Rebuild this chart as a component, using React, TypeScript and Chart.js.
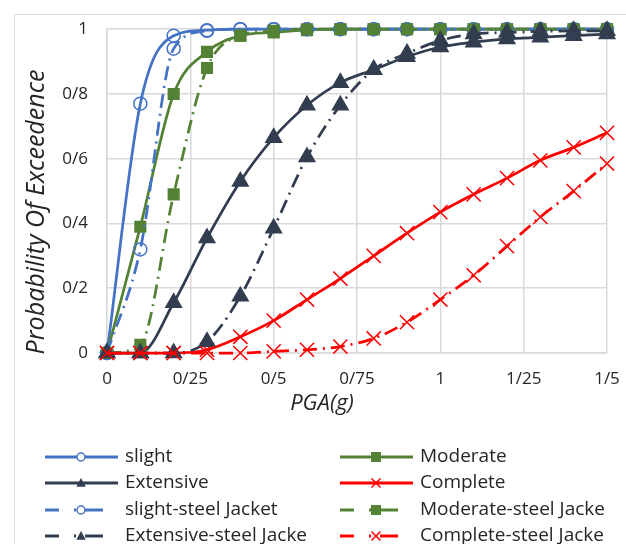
import React, { useEffect, useRef } from 'react';
import { Chart, registerables } from 'chart.js';

Chart.register(...registerables);

const pga = [0, 0.1, 0.2, 0.3, 0.4, 0.5, 0.6, 0.7, 0.8, 0.9, 1.0, 1.1, 1.2, 1.3, 1.4, 1.5];
const xTickLabels = ['0', '0/25', '0/5', '0/75', '1', '1/25', '1/5'];
const yTickLabels = ['0', '0/2', '0/4', '0/6', '0/8', '1'];
const xTitle = 'PGA(g)';
const yTitle = 'Probability Of Exceedence';

const slight = [0, 0.77, 0.98, 0.997, 1, 1, 1, 1, 1, 1, 1, 1, 1, 1, 1, 1];
const moderate = [0, 0.39, 0.8, 0.93, 0.98, 0.99, 0.997, 1, 1, 1, 1, 1, 1, 1, 1, 1];
const extensive = [0, 0, 0.155, 0.355, 0.53, 0.665, 0.765, 0.835, 0.875, 0.915, 0.945, 0.96, 0.97, 0.975, 0.98, 0.985];
const complete = [0, 0, 0, 0.01, 0.05, 0.1, 0.165, 0.23, 0.3, 0.37, 0.435, 0.49, 0.54, 0.595, 0.635, 0.68];
const slightSteel = [0, 0.32, 0.94, 0.995, 1, 1, 1, 1, 1, 1, 1, 1, 1, 1, 1, 1];
const moderateSteel = [0, 0.025, 0.49, 0.88, 0.98, 0.995, 1, 1, 1, 1, 1, 1, 1, 1, 1, 1];
const extensiveSteel = [0, 0, 0, 0.035, 0.175, 0.385, 0.605, 0.765, 0.875, 0.925, 0.965, 0.985, 0.99, 0.993, 0.995, 0.995];
const completeSteel = [0, 0, 0, 0, 0, 0.005, 0.01, 0.02, 0.045, 0.095, 0.165, 0.24, 0.33, 0.42, 0.5, 0.585];

const seriesLabels = [
  'slight',
  'Moderate',
  'Extensive',
  'Complete',
  'slight-steel Jacket',
  'Moderate-steel Jacke',
  'Extensive-steel Jacke',
  'Complete-steel Jacke',
];

const BLUE = '#4472C4';
const GREEN = '#548235';
const DARK = '#323E4F';
const RED = '#FF0000';
const FONT = "'Open Sans', 'Noto Sans', sans-serif";
const TEXT = '#262626';

type Spec = { values: number[]; color: string; marker: string; dashed: boolean };

const specs: Spec[] = [
  { values: slight, color: BLUE, marker: 'circle', dashed: false },
  { values: moderate, color: GREEN, marker: 'rect', dashed: false },
  { values: extensive, color: DARK, marker: 'triangle', dashed: false },
  { values: complete, color: RED, marker: 'crossRot', dashed: false },
  { values: slightSteel, color: BLUE, marker: 'circle', dashed: true },
  { values: moderateSteel, color: GREEN, marker: 'rect', dashed: true },
  { values: extensiveSteel, color: DARK, marker: 'triangle', dashed: true },
  { values: completeSteel, color: RED, marker: 'crossRot', dashed: true },
];

const DASH = [14, 6, 2, 6];

function markerRadius(m: string) {
  if (m === 'circle') return 6.5;
  if (m === 'rect') return 7.5;
  if (m === 'triangle') return 9;
  return 10;
}

function drawMarker(ctx: CanvasRenderingContext2D, m: string, x: number, y: number, r: number, color: string) {
  ctx.save();
  ctx.setLineDash([]);
  ctx.strokeStyle = color;
  ctx.fillStyle = color;
  ctx.lineWidth = 1.5;
  ctx.beginPath();
  if (m === 'circle') {
    ctx.arc(x, y, r, 0, Math.PI * 2);
    ctx.fillStyle = '#ffffff';
    ctx.fill();
    ctx.stroke();
  } else if (m === 'rect') {
    ctx.rect(x - r, y - r, 2 * r, 2 * r);
    ctx.fill();
  } else if (m === 'triangle') {
    ctx.moveTo(x, y - r);
    ctx.lineTo(x + r * 0.95, y + r * 0.75);
    ctx.lineTo(x - r * 0.95, y + r * 0.75);
    ctx.closePath();
    ctx.fill();
  } else {
    ctx.moveTo(x - r, y - r);
    ctx.lineTo(x + r, y + r);
    ctx.moveTo(x + r, y - r);
    ctx.lineTo(x - r, y + r);
    ctx.stroke();
  }
  ctx.restore();
}

const framePlugin = {
  id: 'frame',
  beforeDraw(chart: any) {
    const ctx = chart.ctx as CanvasRenderingContext2D;
    ctx.save();
    ctx.strokeStyle = '#d9d9d9';
    ctx.lineWidth = 1;
    ctx.beginPath();
    ctx.moveTo(14.5, chart.height);
    ctx.lineTo(14.5, 14.5);
    ctx.lineTo(chart.width, 14.5);
    ctx.stroke();
    ctx.restore();
  },
};

const titlesPlugin = {
  id: 'axisTitles',
  afterDraw(chart: any) {
    const ctx = chart.ctx as CanvasRenderingContext2D;
    ctx.save();
    ctx.fillStyle = TEXT;
    ctx.textAlign = 'center';
    ctx.textBaseline = 'middle';
    ctx.font = `italic 22px ${FONT}`;
    ctx.fillText(xTitle, 322, 404);
    ctx.translate(37, 212);
    ctx.rotate(-Math.PI / 2);
    ctx.font = `italic 25px ${FONT}`;
    ctx.fillText(yTitle, 0, 0);
    ctx.restore();
  },
};

const legendPlugin = {
  id: 'customLegend',
  afterDraw(chart: any) {
    const ctx = chart.ctx as CanvasRenderingContext2D;
    const colX = [45, 340];
    const rowY = [457, 483, 510, 536];
    ctx.save();
    ctx.font = `19px ${FONT}`;
    ctx.textBaseline = 'middle';
    ctx.textAlign = 'left';
    specs.forEach((s, i) => {
      const col = i % 2;
      const row = Math.floor(i / 2);
      const x0 = colX[col];
      const y = rowY[row];
      const r = s.marker === 'crossRot' ? 4.5 : s.marker === 'circle' ? 4 : 5;
      ctx.save();
      ctx.strokeStyle = s.color;
      ctx.lineWidth = 3;
      ctx.beginPath();
      if (s.dashed) {
        ctx.moveTo(x0, y);
        ctx.lineTo(x0 + 14, y);
        ctx.moveTo(x0 + 29, y);
        ctx.lineTo(x0 + 31, y);
        ctx.moveTo(x0 + 40, y);
        ctx.lineTo(x0 + 58, y);
      } else {
        ctx.moveTo(x0, y);
        ctx.lineTo(x0 + 73, y);
      }
      ctx.stroke();
      ctx.restore();
      drawMarker(ctx, s.marker, x0 + 36, y, r, s.color);
      ctx.fillStyle = TEXT;
      ctx.fillText(seriesLabels[i], x0 + 80, y);
    });
    ctx.restore();
  },
};

export default function App() {
  const ref = useRef<HTMLCanvasElement>(null);

  useEffect(() => {
    if (!ref.current) return;
    const datasets = specs.map((s, i) => ({
      label: seriesLabels[i],
      data: pga.map((x, j) => ({ x, y: s.values[j] })),
      borderColor: s.color,
      backgroundColor: s.color,
      borderWidth: 2.75,
      borderDash: s.dashed ? DASH : [],
      pointStyle: s.marker,
      pointRadius: markerRadius(s.marker),
      pointBackgroundColor: s.marker === 'circle' ? 'rgba(255,255,255,0)' : s.color,
      pointBorderColor: s.color,
      pointBorderWidth: 1.5,
      cubicInterpolationMode: 'monotone',
      fill: false,
      clip: 12,
      order: specs.length - i,
    }));

    const chart = new Chart(ref.current, {
      type: 'line',
      data: { datasets },
      plugins: [framePlugin, titlesPlugin, legendPlugin],
      options: {
        responsive: false,
        animation: false,
        layout: { autoPadding: false, padding: { top: 28, right: 19, bottom: 121, left: 0 } },
        plugins: {
          legend: { display: false },
          tooltip: { enabled: false },
        },
        scales: {
          x: {
            type: 'linear',
            min: 0,
            max: 1.5,
            afterFit: (s: any) => {
              s.height = 70;
              s.paddingLeft = 0;
              s.paddingRight = 0;
            },
            afterBuildTicks: (s: any) => {
              s.ticks = xTickLabels.map((_, i) => ({ value: i * 0.25 }));
            },
            ticks: {
              padding: 16,
              color: TEXT,
              font: { family: FONT, size: 17 },
              maxRotation: 0,
              callback: (_v: any, i: number) => xTickLabels[i],
            },
            grid: { color: '#d9d9d9', lineWidth: 1.5, drawTicks: false },
            border: { display: true, color: '#d9d9d9', width: 1.5 },
            title: { display: false },
          },
          y: {
            type: 'linear',
            min: 0,
            max: 1,
            afterFit: (s: any) => {
              s.width = 107;
            },
            afterBuildTicks: (s: any) => {
              s.ticks = yTickLabels.map((_, i) => ({ value: i * 0.2 }));
            },
            ticks: {
              padding: 19,
              color: TEXT,
              font: { family: FONT, size: 17 },
              callback: (_v: any, i: number) => yTickLabels[i],
            },
            grid: { color: '#d9d9d9', lineWidth: 1.5, drawTicks: false },
            border: { display: true, color: '#d9d9d9', width: 1.5 },
            title: { display: false },
          },
        },
      } as any,
    });
    return () => chart.destroy();
  }, []);

  return (
    <div style={{ position: 'absolute', left: 0, top: 0, width: 626, height: 544, background: '#fff' }}>
      <canvas ref={ref} width={626} height={544} />
    </div>
  );
}
